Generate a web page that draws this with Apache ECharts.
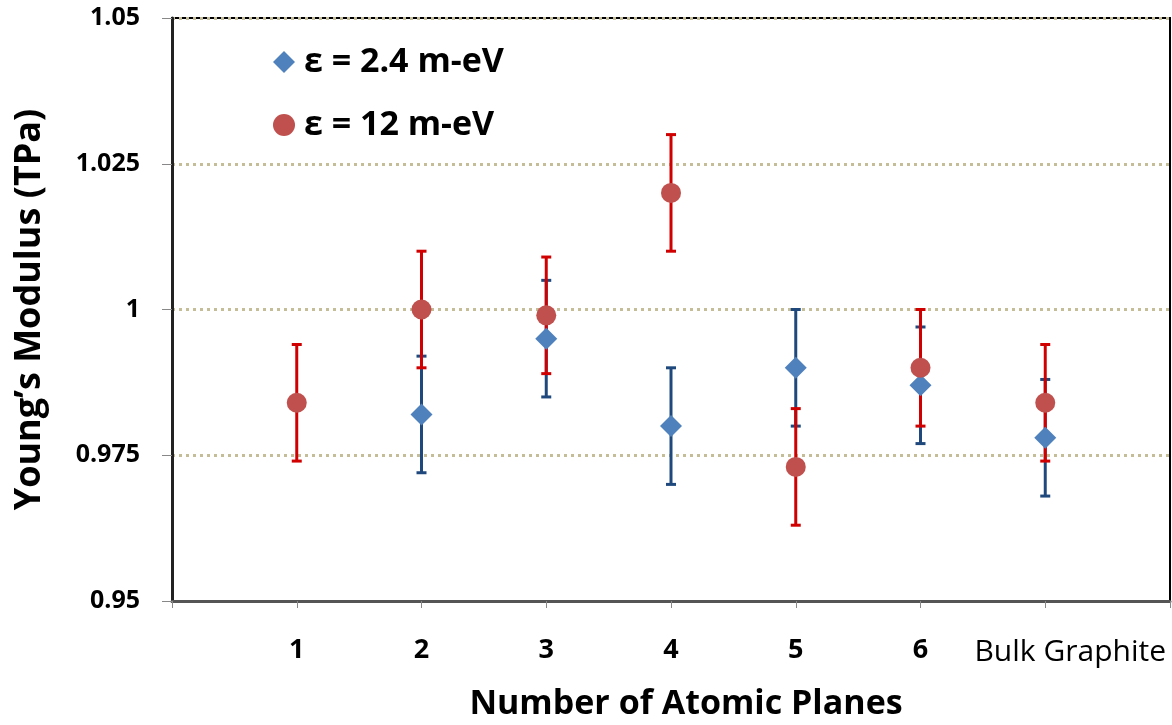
<!DOCTYPE html>
<html>
<head>
<meta charset="utf-8">
<script src="https://cdn.jsdelivr.net/npm/echarts@6/dist/echarts.min.js"></script>
<style>
html,body{margin:0;padding:0;background:#fff;}
#main{width:1172px;height:725px;}
</style>
</head>
<body>
<div id="main"></div>
<script>
// x positions (value axis 0..8, points at 1..7)
var xPos = [1, 2, 3, 4, 5, 6, 7];
var xLabels = ['', '1', '2', '3', '4', '5', '6', 'Bulk Graphite', ''];
// eps = 2.4 m-eV (no visible point at 1 plane)
var blueVals = [null, 0.982, 0.995, 0.980, 0.990, 0.987, 0.978];
var blueErr = [0.01, 0.01, 0.01, 0.01, 0.01, 0.01, 0.01];
// eps = 12 m-eV
var redVals = [0.984, 1.000, 0.999, 1.020, 0.973, 0.990, 0.984];
var redErr = [0.01, 0.01, 0.01, 0.01, 0.01, 0.01, 0.01];

var FONT = '"Open Sans"';

function pts(vals) {
    var out = [];
    for (var i = 0; i < vals.length; i++) {
        if (vals[i] == null) continue;
        out.push([xPos[i], vals[i]]);
    }
    return out;
}
function bars(vals, errs) {
    var out = [];
    for (var i = 0; i < vals.length; i++) {
        if (vals[i] == null) continue;
        out.push([xPos[i], vals[i] - errs[i], vals[i] + errs[i]]);
    }
    return out;
}
function errRender(color) {
    return function (params, api) {
        var x = api.value(0);
        var top = api.coord([x, api.value(2)]);
        var bot = api.coord([x, api.value(1)]);
        var w = 5;
        var st = { stroke: color, lineWidth: 3 };
        return {
            type: 'group',
            children: [
                { type: 'line', shape: { x1: top[0], y1: top[1], x2: bot[0], y2: bot[1] }, style: st },
                { type: 'line', shape: { x1: top[0] - w, y1: top[1], x2: top[0] + w, y2: top[1] }, style: st },
                { type: 'line', shape: { x1: bot[0] - w, y1: bot[1], x2: bot[0] + w, y2: bot[1] }, style: st }
            ]
        };
    };
}

var chart = echarts.init(document.getElementById('main'));
var option = {
    backgroundColor: '#fff',
    animation: false,
    grid: {
        left: 172, right: 2, top: 18, bottom: 124,
        outerBoundsMode: 'none',
        show: true, borderColor: '#000', borderWidth: 2
    },
    legend: {
        orient: 'vertical',
        left: 268, top: 40,
        itemWidth: 22, itemHeight: 22, itemGap: 29,
        data: ['ε = 2.4 m-eV', 'ε = 12 m-eV'],
        textStyle: { fontFamily: FONT, fontSize: 34, fontWeight: 'bold', color: '#000', padding: [0, 0, 0, 4] }
    },
    xAxis: {
        type: 'value', min: 0, max: 8, interval: 1,
        name: 'Number of Atomic Planes',
        nameLocation: 'middle', nameGap: 86,
        nameTextStyle: { fontFamily: FONT, fontSize: 34, fontWeight: 'bold', color: '#000', padding: [0, 0, 0, 30] },
        axisLine: { lineStyle: { color: '#555', width: 3 } },
        axisTick: { length: 7, lineStyle: { color: '#888', width: 1 } },
        splitLine: { show: false },
        axisLabel: {
            margin: 36,
            fontFamily: FONT, fontSize: 27, fontWeight: 'bold', color: '#000',
            formatter: function (v) {
                var s = xLabels[Math.round(v)] || '';
                if (s.length > 2) return '{b|' + s + '}';
                return s;
            },
            rich: {
                b: { fontFamily: FONT, fontSize: 30, fontWeight: 'normal', color: '#000', padding: [0, 0, 0, 50] }
            }
        }
    },
    yAxis: {
        type: 'value', min: 0.95, max: 1.05, interval: 0.025,
        name: 'Young\u2019s Modulus (TPa)',
        nameLocation: 'middle', nameGap: 124,
        nameTextStyle: { fontFamily: FONT, fontSize: 36, fontWeight: 'bold', color: '#000' },
        axisLine: { lineStyle: { color: '#222', width: 3 } },
        axisTick: { show: true, length: 10, lineStyle: { color: '#888', width: 1 } },
        splitLine: { lineStyle: { color: '#C4BD97', width: 3, type: [3, 4] } },
        axisLabel: {
            margin: 32,
            fontFamily: FONT, fontSize: 25, fontWeight: 'bold', color: '#000',
            formatter: function (v) { return String(parseFloat(v.toFixed(3))); }
        }
    },
    series: [
        {
            type: 'custom', name: 'blueErr', z: 1,
            renderItem: errRender('#1F497D'),
            encode: { x: 0, y: [1, 2] },
            data: bars(blueVals, blueErr)
        },
        {
            type: 'custom', name: 'redErr', z: 2,
            renderItem: errRender('#D00000'),
            encode: { x: 0, y: [1, 2] },
            data: bars(redVals, redErr)
        },
        {
            type: 'scatter', name: 'ε = 2.4 m-eV', z: 3,
            symbol: 'diamond', symbolSize: 22,
            itemStyle: { color: '#4F81BD', opacity: 1 },
            data: pts(blueVals)
        },
        {
            type: 'scatter', name: 'ε = 12 m-eV', z: 4,
            symbol: 'circle', symbolSize: 20,
            itemStyle: { color: '#C0504D', opacity: 1 },
            data: pts(redVals)
        }
    ]
};
chart.setOption(option);
</script>
</body>
</html>
